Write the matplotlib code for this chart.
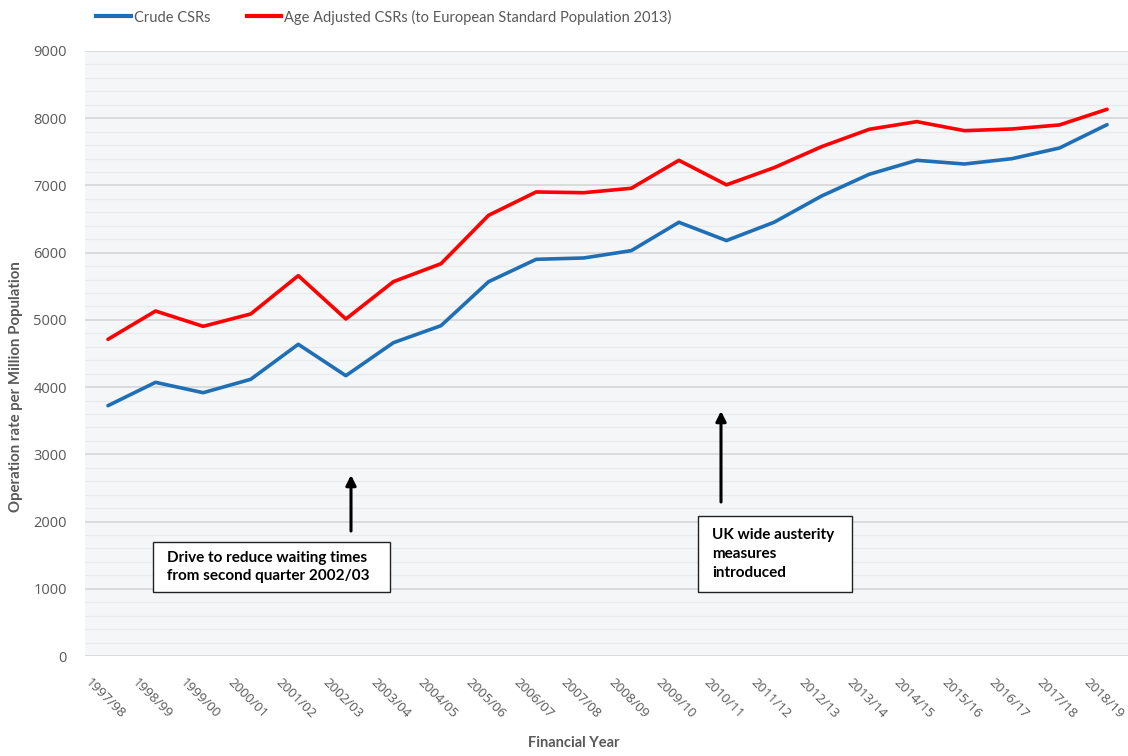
import matplotlib
matplotlib.use("Agg")
import matplotlib.pyplot as plt
import matplotlib.transforms as mtransforms
from matplotlib.patches import Rectangle, FancyArrowPatch
from matplotlib.lines import Line2D
from matplotlib.ticker import MultipleLocator

years = ["1997/98", "1998/99", "1999/00", "2000/01", "2001/02", "2002/03", "2003/04",
         "2004/05", "2005/06", "2006/07", "2007/08", "2008/09", "2009/10", "2010/11",
         "2011/12", "2012/13", "2013/14", "2014/15", "2015/16", "2016/17", "2017/18",
         "2018/19"]
crude = [3724, 4071, 3917, 4116, 4637, 4170, 4661, 4914, 5568, 5901, 5921, 6030,
         6452, 6180, 6452, 6843, 7166, 7374, 7319, 7398, 7557, 7904]
age_adj = [4711, 5132, 4904, 5088, 5658, 5013, 5569, 5836, 6556, 6903, 6892, 6958,
           7374, 7009, 7264, 7577, 7835, 7949, 7815, 7840, 7900, 8133]
yticks = [0, 1000, 2000, 3000, 4000, 5000, 6000, 7000, 8000, 9000]
series_names = ["Crude CSRs", "Age Adjusted CSRs (to European Standard Population 2013)"]
note1 = "Drive to reduce waiting times\nfrom second quarter 2002/03"
note2 = "UK wide austerity\nmeasures\nintroduced"

W, H = 1128, 756
BLUE = "#1f6fb6"
RED = "#ff0000"
GRAY = "#595959"

fig = plt.figure(figsize=(W / 100, H / 100), dpi=100)
ax = fig.add_axes([85 / W, 1 - 656 / H, (W - 85) / W, (656 - 51) / H])
ax.set_facecolor("#f5f6f8")

x = list(range(len(years)))
ax.plot(x, crude, color=BLUE, lw=2.6, solid_capstyle="round", zorder=3)
ax.plot(x, age_adj, color=RED, lw=2.6, solid_capstyle="round", zorder=3)

ax.set_ylim(0, 9000)
ax.set_xlim(-0.483, 21.44)
ax.set_yticks(yticks)
ax.yaxis.set_minor_locator(MultipleLocator(200))
ax.grid(which="minor", axis="y", color="#e9eaec", lw=0.9, zorder=0)
ax.grid(which="major", axis="y", color="#d4d4d6", lw=1.1, zorder=1)
ax.set_axisbelow(True)
for s in ax.spines.values():
    s.set_visible(False)
ax.tick_params(axis="both", which="both", length=0)
ax.tick_params(axis="y", pad=13, labelsize=10.5, labelcolor=GRAY)
ax.set_yticklabels([str(v) for v in yticks], fontfamily="Open Sans")
ax.set_xticks(x)
ax.set_xticklabels(years, rotation=-45, ha="center", va="top",
                   fontfamily="Open Sans", fontsize=9.6, color=GRAY)
ax.tick_params(axis="x", pad=14)
offset = mtransforms.ScaledTranslation(-3 / 100, 0, fig.dpi_scale_trans)
for lab in ax.get_xticklabels():
    lab.set_transform(lab.get_transform() + offset)

fig.text(16 / W, 1 - 387 / H, "Operation rate per Million Population", rotation=90,
         ha="center", va="center", fontsize=10.8, fontweight="bold", color=GRAY,
         fontfamily="Lato")
fig.text(574 / W, 1 - 743 / H, "Financial Year", ha="center", va="center",
         fontsize=10.5, fontweight="bold", color=GRAY, fontfamily="Lato")

handles = [Line2D([], [], color=BLUE, lw=3), Line2D([], [], color=RED, lw=3)]
leg = fig.legend(handles, series_names, loc="center left",
                 bbox_to_anchor=(92 / W, 1 - 17 / H), ncol=2, frameon=False,
                 handlelength=2.35, handletextpad=0.2, columnspacing=2.5,
                 borderaxespad=0, borderpad=0.3,
                 prop={"family": "Lato", "size": 10.5})
for t in leg.get_texts():
    t.set_color(GRAY)

def px(xp, yp):
    return (xp / W, 1 - yp / H)

def box(x0, y0, x1, y1, text):
    r = Rectangle(px(x0, y1), (x1 - x0) / W, (y1 - y0) / H, transform=fig.transFigure,
                  facecolor="white", edgecolor="#222222", lw=1.0, zorder=5)
    fig.add_artist(r)
    fig.text((x0 + 14) / W, 1 - (y0 + y1) / 2 / H, text, ha="left", va="center",
             fontsize=11, fontweight="bold", fontfamily="Lato", color="black",
             linespacing=1.45, zorder=6)

def arrow(xp, y0, y1):
    a = FancyArrowPatch(px(xp, y0), px(xp, y1), transform=fig.transFigure,
                        arrowstyle="-|>,head_length=6,head_width=3", color="black",
                        lw=2.2, shrinkA=0, shrinkB=0, zorder=6)
    fig.add_artist(a)

box(153, 542, 390, 592, note1)
arrow(351, 531, 475)
box(698, 516, 852, 592, note2)
arrow(721, 502, 411)

fig.savefig("out.png", dpi=100)
